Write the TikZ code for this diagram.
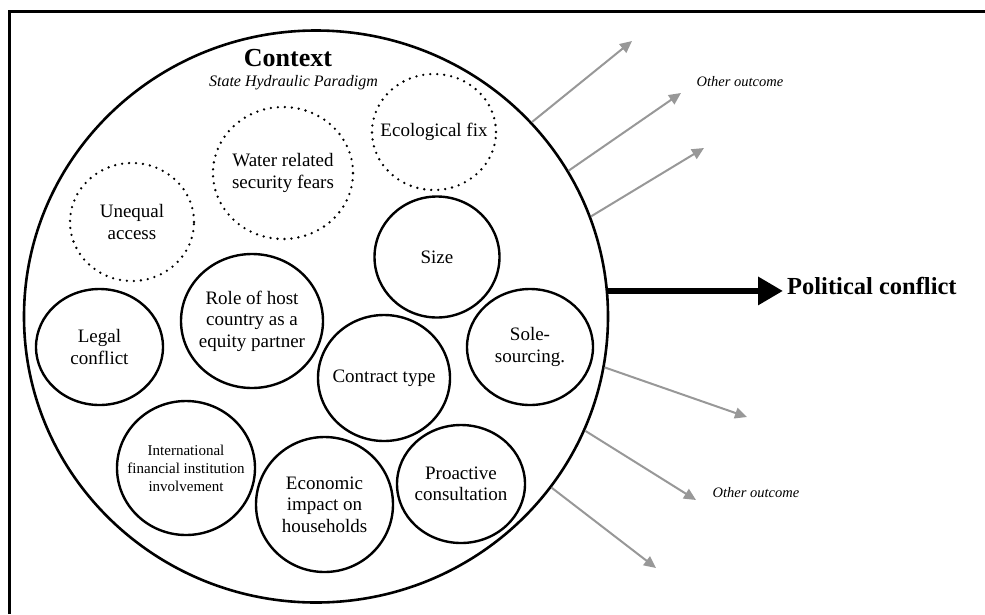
\documentclass[tikz,border=0pt]{standalone}
\usepackage{fontspec}
\setmainfont{Liberation Serif}
\usetikzlibrary{shapes.geometric,arrows.meta}
\definecolor{arrgray}{RGB}{152,152,152}
\begin{document}
\begin{tikzpicture}[x=1pt,y=-1pt,
  bub/.style={draw, ellipse, line width=2.4pt, inner sep=0pt},
  dotbub/.style={draw, ellipse, line width=2.6pt, inner sep=0pt, dash pattern=on 0pt off 7pt, line cap=round},
  btxt/.style={align=center, font=\fontsize{19}{21.5}\selectfont, inner sep=0pt},
  stxt/.style={align=center, font=\fontsize{15}{18}\selectfont, inner sep=0pt},
  outtxt/.style={font=\fontsize{14.5}{17}\selectfont\itshape, inner sep=0pt, anchor=base},
  grayarr/.style={draw=arrgray, fill=arrgray, line width=2pt, -{Triangle[length=12pt,width=11pt]}},
  bigarr/.style={draw=black, line width=6.5pt, -{Triangle[length=25pt,width=27pt]}}
]
\useasboundingbox (0,0) rectangle (985,614);
% frame (only top and left edges visible)
\draw[line width=3pt] (9.5,614) -- (9.5,11.5) -- (985,11.5);

% context circle
\node[draw, ellipse, line width=2.6pt, inner sep=0pt, minimum width=584pt, minimum height=572pt] (ctx) at (316,316.5) {};
\node[font=\fontsize{26}{30}\selectfont\bfseries, anchor=base, inner sep=0pt] (ctxt) at (288,66) {Context};
\node[font=\fontsize{16}{19}\selectfont\itshape, anchor=base, inner sep=0pt] (shp) at (293.5,86) {State Hydraulic Paradigm};

% dotted bubbles
\node[dotbub, minimum width=124pt, minimum height=118pt] (ua) at (132,222) {};
\node[btxt] (uat) at (ua) {Unequal\\access};
\node[dotbub, minimum width=140pt, minimum height=132pt] (wr) at (283,173) {};
\node[btxt] (wrt) at (wr) {Water related\\security fears};
\node[dotbub, minimum width=124pt, minimum height=116pt] (ef) at (434,132) {};
\node[btxt] (eft) at (ef) {Ecological fix};

% solid bubbles
\node[bub, minimum width=127pt, minimum height=116pt] (lc) at (99.5,347) {};
\node[btxt] (lct) at (lc) {Legal\\conflict};
\node[bub, minimum width=142pt, minimum height=134pt] (rh) at (252,321) {};
\node[btxt] (rht) at (rh) {Role of host\\country as a\\equity partner};
\node[bub, minimum width=125pt, minimum height=121pt] (sz) at (437,257) {};
\node[btxt] (szt) at (sz) {Size};
\node[bub, minimum width=132pt, minimum height=126pt] (ct) at (384,378) {};
\node[btxt] (ctt) at (ct) {Contract type};
\node[bub, minimum width=126pt, minimum height=116pt] (ss) at (530,347) {};
\node[btxt] (sst) at (ss) {Sole-\\sourcing.};
\node[bub, minimum width=138pt, minimum height=134pt] (ifi) at (186,468) {};
\node[stxt] (ifit) at (ifi) {International\\financial institution\\involvement};
\node[bub, minimum width=137pt, minimum height=135pt] (ei) at (324.5,504.5) {};
\node[btxt] (eit) at (ei) {Economic\\impact on\\households};
\node[bub, minimum width=128pt, minimum height=118pt] (pc) at (461,484) {};
\node[btxt] (pct) at (pc) {Proactive\\consultation};

% political conflict
\node[font=\fontsize{24.5}{28}\selectfont\bfseries, anchor=base west, inner sep=0pt] (pol) at (787,294) {Political conflict};
\draw[bigarr] (ctx.5.1) -- ([xshift=-4pt]pol.west |- ctx.5.1);

% other outcomes
\node[outtxt] (oo1) at (740,86) {Other outcome};
\node[outtxt] (oo2) at (756,497) {Other outcome};
\coordinate (e1) at (632,41);
\coordinate (e2) at (681,93);
\coordinate (e3) at (704,148);
\coordinate (e4) at (747,417);
\coordinate (e5) at (696,500);
\coordinate (e6) at (656,568);
\draw[grayarr] (ctx.42.9) -- (e1);
\draw[grayarr] (ctx.30.3) -- (e2);
\draw[grayarr] (ctx.20.2) -- (e3);
\draw[grayarr] (ctx.-10.5) -- (e4);
\draw[grayarr] (ctx.-23.5) -- (e5);
\draw[grayarr] (ctx.-36.5) -- (e6);
\end{tikzpicture}
\end{document}
